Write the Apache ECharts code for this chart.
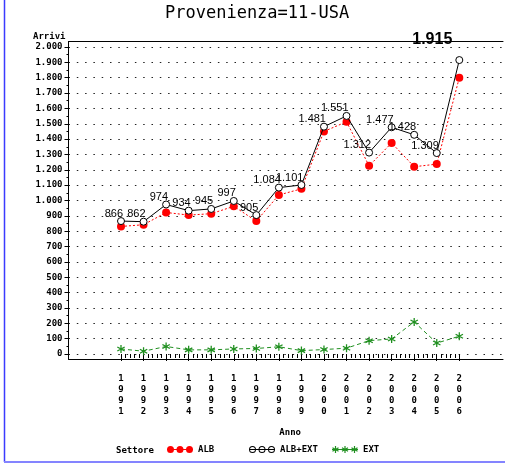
<!DOCTYPE html>
<html>
<head>
<meta charset="utf-8">
<script src="https://cdn.jsdelivr.net/npm/echarts@6/dist/echarts.min.js"></script>
<style>
  html, body { margin: 0; padding: 0; background: #fff; }
  #chart { width: 505px; height: 465px; }
</style>
</head>
<body>
<div id="chart"></div>
<script>
var years = [1991, 1992, 1993, 1994, 1995, 1996, 1997, 1998, 1999, 2000, 2001, 2002, 2003, 2004, 2005, 2006];
var albExt = [866, 862, 974, 934, 945, 997, 905, 1084, 1101, 1481, 1551, 1312, 1477, 1428, 1309, 1915];
var alb = [831, 842, 922, 905, 914, 962, 866, 1036, 1076, 1450, 1513, 1226, 1375, 1220, 1237, 1800];
var ext = [33, 18, 49, 27, 27, 33, 36, 47, 22, 29, 38, 87, 98, 209, 71, 116];

var mono = 'DejaVu Sans Mono';

function fmt(v) {
    if (v >= 1000) {
        return Math.floor(v / 1000) + '.' + String(v % 1000).padStart(3, '0');
    }
    return String(v);
}

function pairs(vals) {
    return years.map(function (y, i) { return [y, vals[i]]; });
}

// little shapes for markers / legend icons
function circ(cx, cy, r, sweep) {
    return 'M' + (cx - r) + ' ' + cy + 'A' + r + ' ' + r + ' 0 1 ' + sweep + ' ' + (cx + r) + ' ' + cy +
        'A' + r + ' ' + r + ' 0 1 ' + sweep + ' ' + (cx - r) + ' ' + cy + 'Z';
}
function star(cx, cy, r, w) {
    var d = '';
    [90, 30, 150].forEach(function (a) {
        var c = Math.cos(a * Math.PI / 180), s = Math.sin(a * Math.PI / 180);
        var x1 = cx + r * c, y1 = cy + r * s, x2 = cx - r * c, y2 = cy - r * s;
        var nx = -s * w, ny = c * w;
        d += 'M' + (x1 + nx).toFixed(2) + ' ' + (y1 + ny).toFixed(2) +
            'L' + (x2 + nx).toFixed(2) + ' ' + (y2 + ny).toFixed(2) +
            'L' + (x2 - nx).toFixed(2) + ' ' + (y2 - ny).toFixed(2) +
            'L' + (x1 - nx).toFixed(2) + ' ' + (y1 - ny).toFixed(2) + 'Z';
    });
    return d;
}
var iconLine = 'M0 3H26V4H0Z';
var iconAlb = 'path://' + iconLine + circ(3.5, 3.5, 3.5, 1) + circ(13, 3.5, 3.5, 1) + circ(22.5, 3.5, 3.5, 1);
var iconAlbExt = 'path://' + iconLine +
    circ(3.5, 3.5, 3.5, 1) + circ(3.5, 3.5, 2.5, 0) +
    circ(13, 3.5, 3.5, 1) + circ(13, 3.5, 2.5, 0) +
    circ(22.5, 3.5, 3.5, 1) + circ(22.5, 3.5, 2.5, 0);
var iconExt = 'path://' + iconLine + star(3.5, 3.5, 3.5, 0.6) + star(13, 3.5, 3.5, 0.6) + star(22.5, 3.5, 3.5, 0.6);
var starSymbol = 'path://' + star(0, 0, 4, 0.6);

var myChart = echarts.init(document.getElementById('chart'));

var labelData = pairs(albExt).map(function (p, i) {
    if (i === albExt.length - 1) {
        return {
            value: p,
            label: { fontSize: 16, fontWeight: 'bold', fontFamily: 'Liberation Sans', offset: [-7, -7] }
        };
    }
    return { value: p };
});

var legendText = { fontFamily: mono, fontSize: 9, fontWeight: 'bold', color: '#000' };

var option = {
    animation: false,
    backgroundColor: '#fff',
    title: [
        { text: 'Provenienza=11-USA', left: 165, top: 5, padding: 0,
          textStyle: { fontFamily: mono, fontSize: 17, fontWeight: 'normal', color: '#000' } },
        { text: 'Arrivi', left: 33, top: 32, padding: 0,
          textStyle: { fontFamily: mono, fontSize: 9, fontWeight: 'bold', color: '#000' } },
        { text: 'Settore', left: 116, top: 446, padding: 0,
          textStyle: { fontFamily: mono, fontSize: 9, fontWeight: 'bold', color: '#000' } }
    ],
    legend: [
        { data: [{ name: 'ALB', icon: iconAlb, itemStyle: { color: '#ff0000', borderWidth: 0 } }],
          left: 167, top: 445, padding: 0, itemWidth: 26, itemHeight: 7, textStyle: legendText },
        { data: [{ name: 'ALB+EXT', icon: iconAlbExt, itemStyle: { color: '#000', borderWidth: 0 } }],
          left: 249, top: 445, padding: 0, itemWidth: 26, itemHeight: 7, textStyle: legendText },
        { data: [{ name: 'EXT', icon: iconExt, itemStyle: { color: '#1f8f1f', borderWidth: 0 } }],
          left: 332, top: 445, padding: 0, itemWidth: 26, itemHeight: 7, textStyle: legendText }
    ],
    grid: [
        { left: 68.5, right: 2, top: 41.5, bottom: 106 },
        { left: 68.5, right: 0, top: 47, bottom: 111 },
        { left: 121, right: 45.7, top: 47, bottom: 111 }
    ],
    xAxis: [
        { gridIndex: 0, type: 'value', min: 0, max: 1, position: 'bottom',
          axisLine: { show: true, lineStyle: { color: '#000', width: 1 } },
          axisTick: { show: false }, axisLabel: { show: false }, splitLine: { show: false } },
        { gridIndex: 0, type: 'value', min: 0, max: 1, position: 'top',
          axisLine: { show: true, lineStyle: { color: '#000', width: 1 } },
          axisTick: { show: false }, axisLabel: { show: false }, splitLine: { show: false } },
        { gridIndex: 1, type: 'value', min: 0, max: 1, show: false },
        { gridIndex: 2, type: 'value', min: 1991, max: 2006, interval: 1, offset: 5,
          name: 'Anno', nameLocation: 'middle', nameGap: 69,
          nameTextStyle: { fontFamily: mono, fontSize: 9, fontWeight: 'bold', color: '#000' },
          axisLine: { show: false },
          axisTick: { show: true, length: 7, lineStyle: { color: '#000' } },
          minorTick: { show: true, splitNumber: 5, length: 4, lineStyle: { color: '#000' } },
          splitLine: { show: false },
          axisLabel: { margin: 14, fontFamily: mono, fontSize: 9, fontWeight: 'bold', color: '#000',
                       lineHeight: 11, verticalAlign: 'top',
                       formatter: function (v) { return String(v).split('').join('\n'); } } }
    ],
    yAxis: [
        { gridIndex: 0, type: 'value', min: 0, max: 1,
          axisLine: { show: true, lineStyle: { color: '#000', width: 1 } },
          axisTick: { show: false }, axisLabel: { show: false }, splitLine: { show: false } },
        { gridIndex: 1, type: 'value', min: 0, max: 2000, interval: 100,
          axisLine: { show: false },
          axisTick: { show: true, length: 4, lineStyle: { color: '#000' } },
          minorTick: { show: true, splitNumber: 2, length: 2, lineStyle: { color: '#000' } },
          splitLine: { show: true, lineStyle: { color: '#222', width: 1, type: [1.5, 6.8] } },
          axisLabel: { margin: 6, fontFamily: mono, fontSize: 9, fontWeight: 'bold', color: '#000',
                       formatter: fmt } },
        { gridIndex: 2, type: 'value', min: 0, max: 2000, show: false }
    ],
    series: [
        {
            name: 'ALB', type: 'line', xAxisIndex: 3, yAxisIndex: 2,
            data: pairs(alb),
            symbol: 'circle', symbolSize: 8,
            itemStyle: { color: '#ff0000' },
            lineStyle: { color: '#ff0000', width: 1, type: [2, 2] },
            z: 3
        },
        {
            name: 'ALB+EXT', type: 'line', xAxisIndex: 3, yAxisIndex: 2,
            data: labelData,
            symbol: 'circle', symbolSize: 7,
            itemStyle: { color: '#fff', borderColor: '#000', borderWidth: 1 },
            lineStyle: { color: '#000', width: 1 },
            label: {
                show: true, position: 'top', distance: 1, align: 'right', offset: [2, 3],
                fontFamily: 'Liberation Sans', fontSize: 11, color: '#000',
                formatter: function (p) { return fmt(p.value[1]); }
            },
            z: 4
        },
        {
            name: 'EXT', type: 'line', xAxisIndex: 3, yAxisIndex: 2,
            data: pairs(ext),
            symbol: starSymbol, symbolSize: 8,
            itemStyle: { color: '#1f8f1f' },
            lineStyle: { color: '#1f8f1f', width: 1, type: [4, 3] },
            z: 3
        }
    ],
    graphic: [
        { type: 'line', shape: { x1: 4.5, y1: 0, x2: 4.5, y2: 462 },
          style: { stroke: '#3b3bff', lineWidth: 1.5 }, z: 100 },
        { type: 'line', shape: { x1: 4, y1: 462, x2: 505, y2: 462 },
          style: { stroke: '#8484ff', lineWidth: 2 }, z: 100 }
    ]
};

option && myChart.setOption(option);
</script>
</body>
</html>
